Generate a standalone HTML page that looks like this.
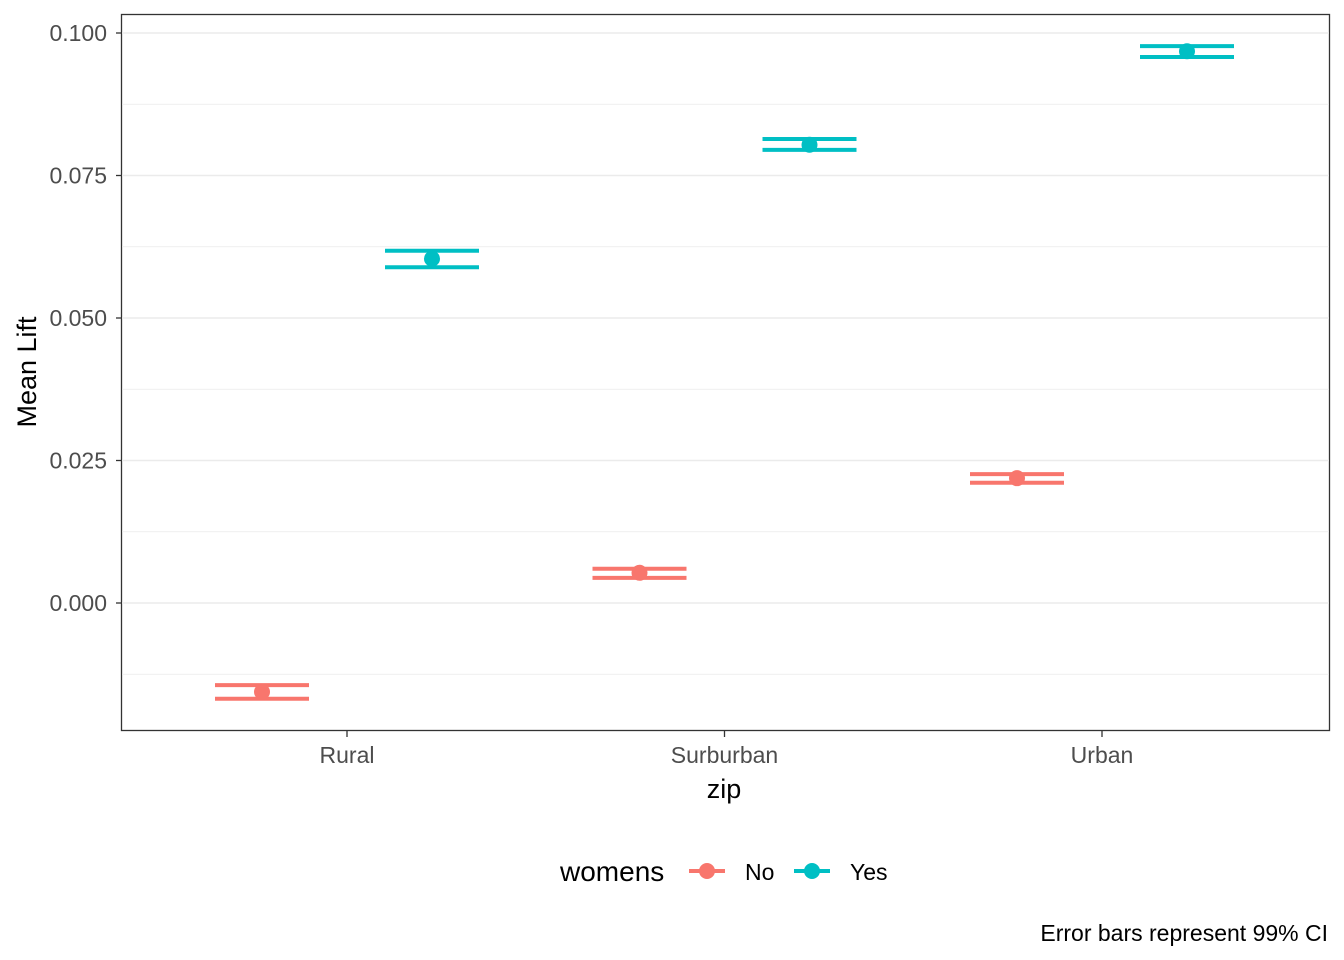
<!DOCTYPE html>
<html><head><meta charset="utf-8"><style>
body{margin:0;background:#fff;font-family:"Liberation Sans",Arial,sans-serif}
svg{display:block}
</style></head><body>
<svg id="chart" width="1344" height="960">
<rect x="121.5" y="14.5" width="1208" height="716" fill="#fff" stroke="#333" stroke-width="1.3"/>
<g id="grid"></g><g id="marks"></g><g id="axes"></g>
<text x="724" y="798" font-size="27" text-anchor="middle" fill="#000">zip</text>
<text transform="translate(36,372) rotate(-90)" font-size="27" text-anchor="middle" fill="#000">Mean Lift</text>
<g>
<text x="560" y="881" font-size="28" fill="#000">womens</text>
<g><line x1="689" y1="871" x2="725" y2="871" stroke="#F8766D" stroke-width="4"/><circle cx="707" cy="871" r="8" fill="#F8766D"/><text x="745" y="880" font-size="23" fill="#000">No</text></g>
<g><line x1="794" y1="871" x2="830" y2="871" stroke="#00BFC4" stroke-width="4"/><circle cx="812" cy="871" r="8" fill="#00BFC4"/><text x="850" y="880" font-size="23" fill="#000">Yes</text></g>
</g>
<text x="1328" y="941" font-size="23" text-anchor="end" fill="#000">Error bars represent 99% CI</text>
</svg>
<script>
const categories=["Rural","Surburban","Urban"];
const groups=["No","Yes"];
const meanNo=[-0.0156,0.0053,0.0219];
const lowNo=[-0.0168,0.0044,0.0211];
const highNo=[-0.0144,0.0060,0.0226];
const meanYes=[0.0604,0.0804,0.0968];
const lowYes=[0.0589,0.0795,0.0958];
const highYes=[0.0618,0.0814,0.0977];
const yTicks=[0,0.025,0.05,0.075,0.1];
const yTickLabels=["0.000","0.025","0.050","0.075","0.100"];
const colors=["#F8766D","#00BFC4"];
const NS="http://www.w3.org/2000/svg";
function y(v){return 603-v/0.025*142.5;}
function x(i){return 347+i*377.5;}
function mk(t,a,p){const e=document.createElementNS(NS,t);for(const k in a)e.setAttribute(k,a[k]);p.appendChild(e);return e;}
const grid=document.getElementById('grid'),marks=document.getElementById('marks'),axes=document.getElementById('axes');
for(let i=0;i<yTicks.length;i++){
 const yy=y(yTicks[i]);
 const l=mk('line',{x1:122,x2:1329,y1:yy,y2:yy,stroke:'#ebebeb','stroke-width':1.5},grid);
 
 
 if(i<yTicks.length-1){const m=y((yTicks[i]+yTicks[i+1])/2);
  const l2=mk('line',{x1:122,x2:1329,y1:m,y2:m,stroke:'#ebebeb','stroke-width':0.8},grid);
  
  }
 mk('line',{x1:116,x2:121,y1:yy,y2:yy,stroke:'#333','stroke-width':1.3},axes);
 const t=mk('text',{x:107,y:yy+8,'font-size':23,'text-anchor':'end',fill:'#4d4d4d'},axes);
 t.textContent=yTickLabels[i];
 
 
}
{const m=y(-0.0125);const l2=mk('line',{x1:122,x2:1329,y1:m,y2:m,stroke:'#ebebeb','stroke-width':0.8},grid);
 
 }
for(let i=0;i<categories.length;i++){
 mk('line',{x1:x(i),x2:x(i),y1:731,y2:737,stroke:'#333','stroke-width':1.3},axes);
 const t=mk('text',{x:x(i),y:763,'font-size':23,'text-anchor':'middle',fill:'#4d4d4d'},axes);
 t.textContent=categories[i];
 
 
}
const series=[[meanNo,lowNo,highNo],[meanYes,lowYes,highYes]];
for(let g=0;g<2;g++){
 for(let i=0;i<categories.length;i++){
  const cx=x(i)+(g===0?-85:85);
  const gr=mk('g',{},marks);
  
  
  const [m,lo,hi]=series[g];
  mk('line',{x1:cx-47,x2:cx+47,y1:y(lo[i]),y2:y(lo[i]),stroke:colors[g],'stroke-width':4},gr);
  mk('line',{x1:cx-47,x2:cx+47,y1:y(hi[i]),y2:y(hi[i]),stroke:colors[g],'stroke-width':4},gr);
  mk('line',{x1:cx,x2:cx,y1:y(lo[i]),y2:y(hi[i]),stroke:colors[g],'stroke-width':4},gr);
  mk('circle',{cx:cx,cy:y(m[i]),r:8,fill:colors[g]},gr);
 }
}
</script>
</body></html>
